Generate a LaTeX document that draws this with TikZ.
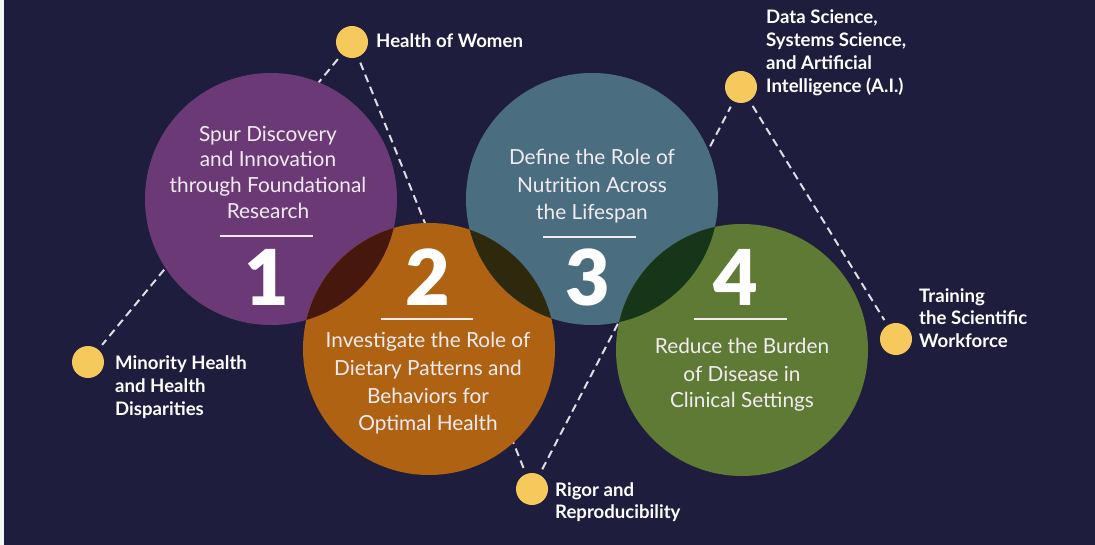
\documentclass[tikz,border=0pt]{standalone}
\usepackage{fontspec}
\setmainfont{Lato}
\newfontfamily\numfont{Lato Black}
\definecolor{bg}{HTML}{1F1D3D}
\definecolor{cpurple}{HTML}{6B3A76}
\definecolor{corange}{HTML}{B06213}
\definecolor{cteal}{HTML}{4A6E7F}
\definecolor{cgreen}{HTML}{5F7A34}
\definecolor{ovA}{HTML}{45170D}
\definecolor{ovB}{HTML}{2E280C}
\definecolor{ovC}{HTML}{173619}
\definecolor{dotc}{HTML}{F6C95C}
\definecolor{ctxt}{HTML}{F2ECF2}
\tikzset{
  bigc/.style={circle, minimum size=252pt, inner sep=0pt, draw=none},
  dotn/.style={circle, minimum size=32pt, inner sep=0pt, fill=dotc},
  dashc/.style={draw=white!85!bg, line width=2pt, dash pattern=on 8pt off 5pt, shorten <=6pt, shorten >=6pt},
  ctext/.style={anchor=base, inner sep=0pt, text=ctxt, font=\fontsize{20.8}{24}\selectfont},
  ltext/.style={anchor=base west, inner sep=0pt, text=white, font=\fontsize{18.6}{20}\selectfont\bfseries},
  numt/.style={anchor=base, inner sep=0pt, text=white, font=\fontsize{77}{80}\numfont},
  rulel/.style={draw=ctxt, line width=2pt},
}
\begin{document}
\begin{tikzpicture}[x=1pt,y=-1pt]
\useasboundingbox (0,0) rectangle (1095,545);
\fill[bg] (0,0) rectangle (1095,545);
\fill[white!92!gray] (0,0) rectangle (4,545);
% dots
\node[dotn] (how) at (352,42) {};
\node[dotn] (mhd) at (88,362) {};
\node[dotn] (rig) at (532,489) {};
\node[dotn] (dsc) at (741,87) {};
\node[dotn] (trn) at (896,339) {};
% dashed connectors
\draw[dashc] (how) -- (mhd);
\draw[dashc] (how) -- (rig);
\draw[dashc] (rig) -- (dsc);
\draw[dashc] (dsc) -- (trn);
% big circles
\node[bigc, fill=cpurple] (c1) at (271,199) {};
\node[bigc, fill=corange] (c2) at (429,349) {};
\node[bigc, fill=cteal] (c3) at (592,199) {};
\node[bigc, fill=cgreen] (c4) at (742,350) {};
% overlaps
\begin{scope}
  \clip (271,199) circle (126);
  \fill[ovA] (429,349) circle (126);
\end{scope}
\begin{scope}
  \clip (592,199) circle (126);
  \fill[ovB] (429,349) circle (126);
\end{scope}
\begin{scope}
  \clip (592,199) circle (126);
  \fill[ovC] (742,350) circle (126);
\end{scope}
% circle 1 text
\node[ctext] (t1a) at (268,142) {Spur Discovery};
\node[ctext] (t1b) at (268,167) {and Innovation};
\node[ctext] (t1c) at (268,193) {through Foundational};
\node[ctext] (t1d) at (268,219) {Research};
\draw[rulel] (220,236) -- (313,236);
\node[numt] (n1) at (267,306) {1};
% circle 2 text
\node[numt] (n2) at (428,306) {2};
\draw[rulel] (381,319) -- (473,319);
\node[ctext] (t2a) at (428,348) {Investigate the Role of};
\node[ctext] (t2b) at (428,375) {Dietary Patterns and};
\node[ctext] (t2c) at (428,403) {Behaviors for};
\node[ctext] (t2d) at (428,430) {Optimal Health};
% circle 3 text
\node[ctext] (t3a) at (592,165) {Define the Role of};
\node[ctext] (t3b) at (592,193) {Nutrition Across};
\node[ctext] (t3c) at (592,220) {the Lifespan};
\draw[rulel] (543,237) -- (636,237);
\node[numt] (n3) at (588,306) {3};
% circle 4 text
\node[numt] (n4) at (736,306) {4};
\draw[rulel] (694,319) -- (787,319);
\node[ctext] (t4a) at (742,353) {Reduce the Burden};
\node[ctext] (t4b) at (742,381) {of Disease in};
\node[ctext] (t4c) at (742,407) {Clinical Settings};
% labels
\node[ltext] (lhow) at (376,48) {Health of Women};
\node[ltext] (lm1) at (115,369) {Minority Health};
\node[ltext] (lm2) at (115,392) {and Health};
\node[ltext] (lm3) at (115,415) {Disparities};
\node[ltext] (lr1) at (555,496) {Rigor and};
\node[ltext] (lr2) at (555,518) {Reproducibility};
\node[ltext] (ld1) at (766,24) {Data Science,};
\node[ltext] (ld2) at (766,47) {Systems Science,};
\node[ltext] (ld3) at (766,70) {and Artificial};
\node[ltext] (ld4) at (766,93) {Intelligence (A.I.)};
\node[ltext] (lt1) at (919,302) {Training};
\node[ltext] (lt2) at (919,325) {the Scientific};
\node[ltext] (lt3) at (919,348) {Workforce};
\end{tikzpicture}
\end{document}
